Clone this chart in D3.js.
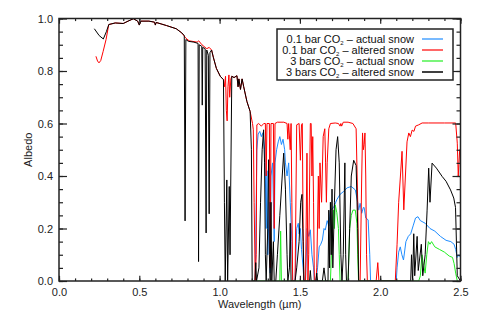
<!DOCTYPE html>
<html>
<head>
<meta charset="utf-8">
<script src="https://cdn.jsdelivr.net/npm/d3@7"></script>
<style>
  body { margin: 0; background: #fff; }
  svg { font-family: "Liberation Sans", Arial, sans-serif; }
  .tick text { font-size: 11px; fill: #222; }
  .axis-label { font-size: 11px; fill: #222; }
  .legend text { font-size: 11px; fill: #111; }
</style>
</head>
<body>
<svg id="chart" width="478" height="319"></svg>
<script>
// wavelength (um), albedo pairs
const bar01Actual = [
  [1.222,0],[1.232,0.5],[1.24,0.56],[1.25,0.57],[1.26,0.55],[1.27,0.565],[1.28,0.5],[1.285,0.4],
  [1.29,0.2],[1.295,0.42],[1.30,0.1],[1.31,0.3],[1.315,0.03],[1.32,0.4],[1.33,0.45],[1.34,0.15],
  [1.345,0.45],[1.355,0.5],[1.365,0.53],[1.375,0.55],[1.385,0.52],[1.395,0.54],[1.405,0.5],
  [1.41,0.45],[1.42,0.4],[1.43,0.45],[1.44,0.3],[1.45,0.15],[1.455,0],[1.47,0],[1.48,0.2],
  [1.49,0.22],[1.495,0.18],[1.503,0.2],[1.51,0.12],[1.52,0.05],[1.525,0],[1.535,0],[1.545,0.2],
  [1.555,0.17],[1.565,0.195],[1.575,0.1],[1.585,0.05],[1.59,0],[1.60,0],[1.61,0.05],[1.62,0.13],
  [1.63,0.14],[1.64,0.156],[1.65,0.2],[1.658,0.194],[1.67,0.23],[1.68,0.21],[1.69,0.27],
  [1.71,0.28],[1.73,0.31],[1.75,0.33],[1.77,0.34],[1.794,0.355],[1.82,0.36],[1.845,0.347],
  [1.86,0.3],[1.866,0.27],[1.875,0.296],[1.885,0.258],[1.895,0.28],[1.90,0.28],[1.91,0.24],
  [1.925,0.233],[1.935,0.1],[1.94,0],[2.10,0],[2.105,0.05],[2.115,0.11],[2.125,0.13],[2.135,0.1],
  [2.145,0.08],[2.16,0.15],[2.175,0.17],[2.19,0.18],[2.205,0.21],[2.22,0.24],[2.235,0.245],
  [2.25,0.23],[2.28,0.22],[2.31,0.2],[2.34,0.19],[2.375,0.17],[2.41,0.155],[2.44,0.15],
  [2.46,0.14],[2.47,0.12],[2.48,0.09],[2.49,0.1],[2.5,0.09]
];

const bar01Altered = [
  [0.23,0.856],[0.24,0.838],[0.249,0.831],[0.26,0.84],[0.275,0.875],[0.293,0.92],[0.31,0.977],
  [0.35,0.983],[0.40,0.981],[0.43,0.99],[0.463,0.999],[0.49,0.99],[0.50,0.975],[0.51,0.99],
  [0.56,0.99],[0.595,0.986],[0.60,0.975],[0.605,0.985],[0.67,0.973],[0.73,0.961],[0.765,0.945],
  [0.79,0.925],[0.81,0.915],[0.86,0.91],[0.87,0.915],[0.89,0.9],[0.92,0.885],[0.935,0.89],
  [0.95,0.88],[0.962,0.85],[0.98,0.81],[1.004,0.78],[1.024,0.767],[1.03,0.74],[1.037,0.78],
  [1.042,0.65],[1.047,0.61],[1.052,0.74],[1.058,0.785],[1.063,0.7],[1.07,0.77],[1.076,0.78],
  [1.09,0.775],[1.108,0.782],[1.115,0.74],[1.12,0.77],[1.13,0.73],[1.14,0.77],[1.15,0.74],
  [1.17,0.684],[1.19,0.646],[1.205,0.6],[1.21,0.576],[1.215,0.3],[1.222,0],[1.228,0.1],
  [1.232,0.595],[1.243,0.6],[1.26,0.59],[1.275,0.6],[1.285,0.6],[1.29,0.4],[1.295,0.6],
  [1.31,0.6],[1.315,0.05],[1.32,0.6],[1.335,0.6],[1.34,0.2],[1.345,0.6],[1.36,0.605],
  [1.40,0.605],[1.42,0.6],[1.425,0.54],[1.43,0.6],[1.44,0.5],[1.445,0.6],[1.45,0.3],[1.455,0],
  [1.47,0],[1.48,0.595],[1.495,0.6],[1.503,0.46],[1.51,0.595],[1.515,0.6],[1.52,0.2],[1.525,0],
  [1.535,0],[1.544,0.487],[1.55,0],[1.555,0.1],[1.565,0.6],[1.57,0.6],[1.575,0.4],[1.58,0.55],
  [1.585,0.3],[1.59,0],[1.60,0],[1.605,0.05],[1.615,0.4],[1.62,0.2],[1.625,0.45],[1.635,0.3],
  [1.645,0.55],[1.655,0.58],[1.66,0.45],[1.665,0.3],[1.67,0.45],[1.68,0.58],[1.69,0.6],
  [1.72,0.602],[1.74,0.6],[1.75,0.59],[1.755,0.6],[1.76,0.59],[1.77,0.605],[1.80,0.605],
  [1.83,0.6],[1.85,0.58],[1.86,0.3],[1.866,0],[1.875,0],[1.885,0.4],[1.89,0.564],[1.895,0.5],
  [1.90,0.52],[1.905,0.564],[1.91,0.4],[1.915,0.1],[1.92,0],[1.975,0],[1.985,0.07],[1.992,0],
  [2.094,0],[2.105,0.14],[2.115,0.3],[2.126,0.4],[2.136,0.494],[2.147,0.271],[2.157,0.4],
  [2.167,0.53],[2.178,0.564],[2.188,0.55],[2.199,0.575],[2.21,0.57],[2.22,0.59],[2.24,0.595],
  [2.261,0.602],[2.30,0.602],[2.40,0.602],[2.47,0.602],[2.48,0.525],[2.486,0.4],[2.495,0.5],
  [2.5,0.49]
];

const bars3Actual = [
  [1.2,0],[1.375,0],[1.38,0.19],[1.385,0],[1.69,0],[1.70,0.16],[1.705,0.22],[1.71,0.27],
  [1.715,0.2],[1.72,0.29],[1.73,0.26],[1.74,0.2],[1.745,0.1],[1.75,0],[1.80,0],[1.81,0.2],
  [1.82,0.25],[1.83,0.27],[1.845,0.27],[1.855,0.22],[1.86,0.1],[1.865,0],[2.24,0],[2.25,0.02],
  [2.26,0.1],[2.27,0.06],[2.28,0.03],[2.29,0.1],[2.30,0.15],[2.31,0.14],[2.32,0.15],[2.34,0.13],
  [2.37,0.12],[2.40,0.11],[2.43,0.095],[2.45,0.09],[2.46,0.067],[2.47,0.03],[2.48,0]
];

const bars3Altered = [
  [0.22,0.961],[0.25,0.935],[0.276,0.922],[0.295,0.95],[0.31,0.977],[0.35,0.983],[0.40,0.981],
  [0.43,0.99],[0.463,0.999],[0.49,0.99],[0.50,0.975],[0.51,0.99],[0.56,0.99],[0.595,0.986],
  [0.60,0.975],[0.605,0.985],[0.67,0.973],[0.73,0.961],[0.765,0.945],[0.78,0.935],[0.785,0.229],
  [0.79,0.92],[0.806,0.913],[0.84,0.91],[0.866,0.905],[0.869,0.074],[0.873,0.9],[0.889,0.894],
  [0.892,0.67],[0.895,0.89],[0.91,0.885],[0.916,0.183],[0.92,0.88],[0.93,0.86],[0.935,0.256],
  [0.94,0.87],[0.95,0.88],[0.962,0.85],[0.98,0.81],[1.004,0.78],[1.024,0.767],[1.03,0.3],
  [1.035,0],[1.045,0.385],[1.05,0],[1.06,0.36],[1.065,0.1],[1.076,0.78],[1.09,0.775],
  [1.108,0.782],[1.115,0.74],[1.12,0.77],[1.13,0.73],[1.14,0.77],[1.15,0.74],[1.17,0.684],
  [1.19,0.646],[1.198,0.5],[1.203,0],[1.22,0],[1.225,0.07],[1.23,0],[1.245,0.05],[1.255,0.3],
  [1.265,0.5],[1.274,0.576],[1.28,0.45],[1.285,0.1],[1.29,0],[1.30,0.2],[1.305,0.462],
  [1.31,0.1],[1.315,0],[1.32,0.3],[1.325,0],[1.335,0.15],[1.34,0],[1.35,0],[1.36,0.1],
  [1.375,0.25],[1.39,0.4],[1.399,0.487],[1.41,0.35],[1.42,0.1],[1.425,0],[1.435,0.05],
  [1.44,0.22],[1.445,0],[1.47,0],[1.48,0.05],[1.495,0.15],[1.505,0.3],[1.513,0.33],[1.52,0.15],
  [1.525,0],[1.56,0],[1.565,0.04],[1.57,0],[1.60,0],[1.605,0.03],[1.61,0],[1.64,0],[1.65,0.05],
  [1.66,0],[1.675,0],[1.68,0.27],[1.685,0.05],[1.69,0.3],[1.695,0.1],[1.70,0.35],[1.705,0.05],
  [1.715,0.3],[1.725,0.5],[1.735,0.55],[1.745,0.45],[1.755,0.1],[1.762,0],[1.77,0.1],[1.78,0.45],
  [1.785,0.1],[1.79,0],[1.80,0],[1.81,0.2],[1.82,0.4],[1.835,0.46],[1.85,0.44],[1.86,0.2],
  [1.866,0],[2.19,0],[2.195,0.1],[2.202,0],[2.209,0.18],[2.215,0.02],[2.23,0.17],[2.237,0.04],
  [2.256,0.14],[2.265,0.02],[2.28,0.1],[2.292,0.27],[2.302,0.43],[2.31,0.3],[2.323,0.449],
  [2.35,0.43],[2.386,0.398],[2.41,0.38],[2.438,0.347],[2.458,0.316],[2.469,0.28],[2.48,0.02],
  [2.5,0]
];

const xMajor = [0, 0.5, 1.0, 1.5, 2.0, 2.5];
const yMajor = [0, 0.2, 0.4, 0.6, 0.8, 1.0];

const series = [
  { label: ['0.1 bar CO', '2', ' \u2013 actual snow'], color: '#1e8cff', data: bar01Actual },
  { label: ['0.1 bar CO', '2', ' \u2013 altered snow'], color: '#ff0000', data: bar01Altered },
  { label: ['3 bars CO', '2', ' \u2013 actual snow'], color: '#22ee22', data: bars3Actual },
  { label: ['3 bars CO', '2', ' \u2013 altered snow'], color: '#000000', data: bars3Altered }
];

const svg = d3.select('#chart');
const margin = { top: 18.5, right: 17.5, bottom: 38, left: 59 };
const width = 478, height = 319;
const innerWidth = width - margin.left - margin.right;
const innerHeight = height - margin.top - margin.bottom;

const xScale = d3.scaleLinear().domain([0, 2.5]).range([0, innerWidth]);
const yScale = d3.scaleLinear().domain([0, 1]).range([innerHeight, 0]);

const g = svg.append('g')
  .attr('transform', `translate(${margin.left},${margin.top})`);

g.append('clipPath').attr('id', 'clip')
  .append('rect').attr('width', innerWidth).attr('height', innerHeight + 1).attr('y', -1);

const line = d3.line()
  .x(d => xScale(d[0]))
  .y(d => yScale(d[1]));

g.append('g').attr('clip-path', 'url(#clip)')
  .selectAll('path').data(series)
  .enter().append('path')
  .attr('d', d => line(d.data))
  .attr('fill', 'none')
  .attr('stroke', d => d.color)
  .attr('stroke-width', 1)
  .attr('stroke-linejoin', 'round');

// axes: ticks point inward on all four sides, minor ticks every 0.1 / 0.05
const xMinor = d3.range(0, 26).map(i => i / 10);
const yMinor = d3.range(0, 21).map(i => i / 20);

const styleAxis = sel => {
  sel.select('.domain').remove();
  sel.selectAll('.tick line').attr('stroke', '#222').attr('stroke-width', 1.2);
  sel.selectAll('.tick text').filter(function () { return !this.textContent; }).remove();
};

g.append('g').attr('transform', `translate(0,${innerHeight})`)
  .call(d3.axisBottom(xScale).tickValues(xMinor).tickSize(-2.6).tickFormat(''))
  .call(styleAxis);
g.append('g').attr('transform', `translate(0,${innerHeight})`)
  .call(d3.axisBottom(xScale).tickValues(xMajor).tickSize(-5.2).tickPadding(7).tickFormat(d3.format('.1f')))
  .call(styleAxis);
g.append('g')
  .call(d3.axisTop(xScale).tickValues(xMinor).tickSize(-2.6).tickFormat(''))
  .call(styleAxis);
g.append('g')
  .call(d3.axisTop(xScale).tickValues(xMajor).tickSize(-5.2).tickFormat(''))
  .call(styleAxis);

g.append('g')
  .call(d3.axisLeft(yScale).tickValues(yMinor).tickSize(-4).tickFormat(''))
  .call(styleAxis);
g.append('g')
  .call(d3.axisLeft(yScale).tickValues(yMajor).tickSize(-8).tickPadding(6).tickFormat(d3.format('.1f')))
  .call(styleAxis);
g.append('g').attr('transform', `translate(${innerWidth},0)`)
  .call(d3.axisRight(yScale).tickValues(yMinor).tickSize(-4).tickFormat(''))
  .call(styleAxis);
g.append('g').attr('transform', `translate(${innerWidth},0)`)
  .call(d3.axisRight(yScale).tickValues(yMajor).tickSize(-8).tickFormat(''))
  .call(styleAxis);

g.append('rect')
  .attr('width', innerWidth)
  .attr('height', innerHeight)
  .attr('fill', 'none')
  .attr('stroke', '#222')
  .attr('stroke-width', 1.5);

g.append('text')
  .attr('class', 'axis-label')
  .attr('x', innerWidth / 2)
  .attr('y', innerHeight + 27)
  .attr('text-anchor', 'middle')
  .text('Wavelength (\u00b5m)');

g.append('text')
  .attr('class', 'axis-label')
  .attr('transform', 'rotate(-90)')
  .attr('x', -innerHeight / 2)
  .attr('y', -27)
  .attr('text-anchor', 'middle')
  .text('Albedo');

// legend
const legend = svg.append('g').attr('class', 'legend');
legend.append('rect')
  .attr('x', 277).attr('y', 29)
  .attr('width', 176).attr('height', 51)
  .attr('fill', '#fff')
  .attr('stroke', '#222')
  .attr('stroke-width', 1.5);

series.forEach((s, i) => {
  const cy = 39 + i * 11;
  const t = legend.append('text')
    .attr('x', 414)
    .attr('y', cy + 4)
    .attr('text-anchor', 'end');
  t.append('tspan').text(s.label[0]);
  t.append('tspan').attr('font-size', 6).attr('dy', 2).text(s.label[1]);
  t.append('tspan').attr('dy', -2).text(s.label[2]);
  legend.append('line')
    .attr('x1', 422).attr('x2', 443)
    .attr('y1', cy).attr('y2', cy)
    .attr('stroke', s.color)
    .attr('stroke-width', i === 3 ? 1.5 : 1.2);
});
</script>
</body>
</html>
